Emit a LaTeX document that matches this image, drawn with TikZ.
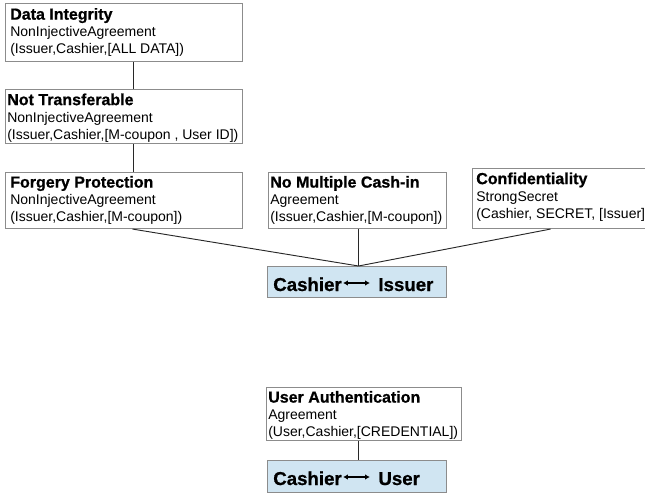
\documentclass[tikz,border=0pt]{standalone}
\usepackage{fontspec}
\usetikzlibrary{arrows.meta}
\setmainfont{Liberation Sans}
\newfontfamily\heavyfont{Liberation Sans Bold}[FakeBold=0.8]
\definecolor{boxline}{RGB}{140,140,140}
\definecolor{linkline}{RGB}{40,40,40}
\definecolor{ablue}{RGB}{208,229,242}
\newcommand\ttl[1]{{\fontsize{12pt}{12.75pt}\heavyfont #1}}
\newcommand\lrarr{\hspace{0.6pt}\tikz[baseline=0pt]\draw[line width=0.9pt,{Latex[length=3.6pt,width=4.2pt]}-{Latex[length=3.6pt,width=4.2pt]}] (0pt,6pt) -- (20pt,6pt);\hspace{6pt}}
\tikzset{
  pbox/.style={draw=boxline, line width=0.8pt, fill=white, inner sep=0pt, anchor=north west},
  abox/.style={draw=boxline, line width=0.8pt, fill=ablue, inner sep=0pt, anchor=north west},
  ptxt/.style={inner sep=0pt, anchor=north west, align=left, font=\fontsize{10.5pt}{12.75pt}\selectfont},
  atxt/.style={inner sep=0pt, anchor=base west, font=\fontsize{14pt}{16pt}\heavyfont},
  link/.style={draw=linkline, line width=0.7pt}
}
\begin{document}
\begin{tikzpicture}[x=0.75pt,y=-0.75pt]
\useasboundingbox (0,0) rectangle (645,492);
\clip (0,0) rectangle (645,492);
% boxes
\node[pbox, minimum width=237*0.75pt, minimum height=58*0.75pt] (di) at (5,3) {};
\node[pbox, minimum width=237*0.75pt, minimum height=54*0.75pt] (nt) at (5,89) {};
\node[pbox, minimum width=237*0.75pt, minimum height=56*0.75pt] (fp) at (5,172) {};
\node[pbox, minimum width=178*0.75pt, minimum height=56*0.75pt] (nm) at (268,172) {};
\node[pbox, minimum width=200*0.75pt, minimum height=60*0.75pt] (cf) at (472,168) {};
\node[abox, minimum width=179*0.75pt, minimum height=31*0.75pt] (ci) at (267,266) {};
\node[pbox, minimum width=195*0.75pt, minimum height=53*0.75pt] (ua) at (266,387) {};
\node[abox, minimum width=179*0.75pt, minimum height=32*0.75pt] (cu) at (267,460) {};
% texts
\node[ptxt] (dit) at ([xshift=3.75pt,yshift=-3.6pt]di.north west) {\ttl{Data Integrity}\\NonInjectiveAgreement\\(Issuer,Cashier,[ALL DATA])};
\node[ptxt] (ntt) at ([xshift=1.5pt,yshift=-3.2pt]nt.north west) {\ttl{Not Transferable}\\NonInjectiveAgreement\\(Issuer,Cashier,[M-coupon , User ID])};
\node[ptxt] (fpt) at ([xshift=3.75pt,yshift=-2.8pt]fp.north west) {\ttl{Forgery Protection}\\NonInjectiveAgreement\\(Issuer,Cashier,[M-coupon])};
\node[ptxt] (nmt) at ([xshift=1.5pt,yshift=-2.8pt]nm.north west) {\ttl{No Multiple Cash-in}\\Agreement\\(Issuer,Cashier,[M-coupon])};
\node[ptxt] (cft) at ([xshift=3pt,yshift=-3.2pt]cf.north west) {\ttl{Confidentiality}\\StrongSecret\\(Cashier, SECRET, [Issuer]};
\node[ptxt] (uat) at ([xshift=1.5pt,yshift=-2.8pt]ua.north west) {\ttl{User Authentication}\\Agreement\\(User,Cashier,[CREDENTIAL])};
\node[atxt] (cit) at ([xshift=4.5pt]ci.north west |- 0,291) {Cashier\lrarr Issuer};
\node[atxt] (cut) at ([xshift=4.5pt]cu.north west |- 0,485) {Cashier\lrarr User};
% connectors
\coordinate (cij) at ([xshift=1.5*0.75pt]ci.north);
\coordinate (cuj) at ([xshift=1.5*0.75pt]cu.north);
\draw[link] ([xshift=9.5*0.75pt]di.south) -- ([xshift=9.5*0.75pt]nt.north);
\draw[link] ([xshift=9.5*0.75pt]nt.south) -- ([xshift=9.5*0.75pt]fp.north);
\draw[link] ([xshift=8.5*0.75pt]fp.south) -- (cij);
\draw[link] ([xshift=1*0.75pt]nm.south) -- (cij);
\draw[link] ([xshift=-22*0.75pt]cf.south) -- (cij);
\draw[link] (cuj |- ua.south) -- (cuj);
\end{tikzpicture}
\end{document}
